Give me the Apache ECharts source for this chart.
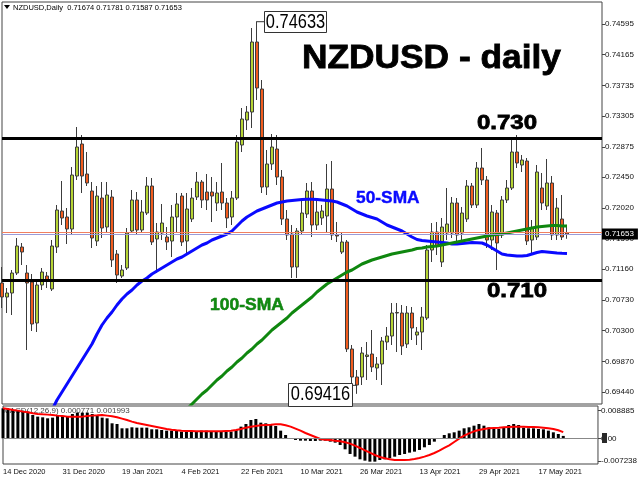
<!DOCTYPE html>
<html><head><meta charset="utf-8">
<script src="https://cdn.jsdelivr.net/npm/echarts@6/dist/echarts.min.js"></script>
<style>html,body{margin:0;padding:0;background:#fff}#c{width:640px;height:480px}</style>
</head><body><div id="c"></div>
<script>
const dates = [
'14 Dec 2020','15 Dec 2020','16 Dec 2020','17 Dec 2020','18 Dec 2020','21 Dec 2020','22 Dec 2020','23 Dec 2020','24 Dec 2020','28 Dec 2020','29 Dec 2020','30 Dec 2020','31 Dec 2020',
'4 Jan 2021','5 Jan 2021','6 Jan 2021','7 Jan 2021','8 Jan 2021','11 Jan 2021','12 Jan 2021','13 Jan 2021','14 Jan 2021','15 Jan 2021','18 Jan 2021','19 Jan 2021','20 Jan 2021','21 Jan 2021','22 Jan 2021','25 Jan 2021','26 Jan 2021','27 Jan 2021','28 Jan 2021','29 Jan 2021',
'1 Feb 2021','2 Feb 2021','3 Feb 2021','4 Feb 2021','5 Feb 2021','8 Feb 2021','9 Feb 2021','10 Feb 2021','11 Feb 2021','12 Feb 2021','15 Feb 2021','16 Feb 2021','17 Feb 2021','18 Feb 2021','19 Feb 2021','22 Feb 2021','23 Feb 2021','24 Feb 2021','25 Feb 2021','26 Feb 2021',
'1 Mar 2021','2 Mar 2021','3 Mar 2021','4 Mar 2021','5 Mar 2021','8 Mar 2021','9 Mar 2021','10 Mar 2021','11 Mar 2021','12 Mar 2021','15 Mar 2021','16 Mar 2021','17 Mar 2021','18 Mar 2021','19 Mar 2021','22 Mar 2021','23 Mar 2021','24 Mar 2021','25 Mar 2021','26 Mar 2021','29 Mar 2021','30 Mar 2021','31 Mar 2021',
'1 Apr 2021','2 Apr 2021','5 Apr 2021','6 Apr 2021','7 Apr 2021','8 Apr 2021','9 Apr 2021','12 Apr 2021','13 Apr 2021','14 Apr 2021','15 Apr 2021','16 Apr 2021','19 Apr 2021','20 Apr 2021','21 Apr 2021','22 Apr 2021','23 Apr 2021','26 Apr 2021','27 Apr 2021','28 Apr 2021','29 Apr 2021','30 Apr 2021',
'3 May 2021','4 May 2021','5 May 2021','6 May 2021','7 May 2021','10 May 2021','11 May 2021','12 May 2021','13 May 2021','14 May 2021','17 May 2021','18 May 2021','19 May 2021','20 May 2021','21 May 2021','24 May 2021'
];
const opens = [
0.70968,0.70772,0.70828,0.71108,0.71472,0.71108,0.70982,0.70408,0.70940,0.71066,
0.70884,0.71472,0.71976,0.71892,0.71724,0.72466,0.72914,0.72494,0.72256,0.71556,
0.72158,0.71752,0.72172,0.71374,0.71066,0.71178,0.71696,0.72130,0.71710,0.71948,
0.72326,0.71584,0.71668,0.71612,0.71556,0.71892,0.72186,0.71556,0.71864,0.72172,
0.72382,0.72242,0.72242,0.72088,0.72242,0.72088,0.71892,0.72158,0.72900,0.73250,
0.73362,0.74342,0.73684,0.72312,0.72634,0.72844,0.72452,0.71864,0.71654,0.71192,
0.71696,0.71934,0.72256,0.71780,0.71878,0.71906,0.72284,0.71640,0.71402,0.71542,
0.70044,0.69652,0.69652,0.69939,0.69974,0.69778,0.69834,0.70142,0.70226,0.70555,
0.70548,0.70114,0.70548,0.70240,0.70282,0.70478,0.71430,0.71682,0.71262,0.71668,
0.71668,0.72088,0.71668,0.71864,0.72326,0.72060,0.72578,0.72410,0.71570,0.71948,
0.71640,0.72130,0.72298,0.72802,0.72620,0.72676,0.71570,0.71612,0.72298,0.72046,
0.72368,0.71640,0.71864,0.71674
];
const closes = [
0.70772,0.70828,0.71108,0.71486,0.71402,0.70968,0.70394,0.70940,0.71122,0.70996,
0.71486,0.71990,0.71878,0.71724,0.72480,0.72872,0.72466,0.72368,0.71598,0.72186,
0.71738,0.72200,0.71290,0.71080,0.71150,0.71668,0.72130,0.71710,0.71962,0.72326,
0.71542,0.71682,0.71808,0.71542,0.71892,0.72074,0.71542,0.72004,0.72158,0.72382,
0.72130,0.72130,0.72186,0.72228,0.72088,0.71878,0.72158,0.72942,0.73264,0.73362,
0.74342,0.73698,0.72312,0.72634,0.72872,0.72452,0.71864,0.71640,0.71192,0.71696,
0.71948,0.72256,0.71780,0.71962,0.71976,0.72284,0.71640,0.71626,0.71542,0.70044,
0.69652,0.69540,0.69988,0.69960,0.69792,0.69834,0.70156,0.70226,0.70548,0.70548,
0.70086,0.70548,0.70338,0.70282,0.70492,0.71430,0.71682,0.71486,0.71752,0.71794,
0.72088,0.71640,0.71948,0.72326,0.72060,0.72578,0.72410,0.71570,0.71962,0.71528,
0.72130,0.72298,0.72802,0.72648,0.72690,0.71556,0.71738,0.72522,0.72088,0.72368,
0.71640,0.72018,0.71612,0.71653
];
const lows = [
0.70618,0.70548,0.70520,0.71080,0.71220,0.70030,0.70296,0.70282,0.70870,0.70898,
0.70856,0.71388,0.71780,0.71514,0.71640,0.72410,0.72228,0.72326,0.71458,0.71486,
0.71598,0.71682,0.71192,0.70968,0.71038,0.71150,0.71668,0.71640,0.71668,0.71920,
0.71500,0.71108,0.71570,0.71430,0.71332,0.71682,0.71486,0.71388,0.71822,0.72130,
0.72018,0.71990,0.71822,0.71976,0.71990,0.71738,0.71780,0.72130,0.72802,0.73110,
0.73138,0.73530,0.72228,0.72200,0.72550,0.72340,0.71780,0.71570,0.71038,0.71038,
0.71640,0.71878,0.71612,0.71710,0.71780,0.71668,0.71570,0.71542,0.71374,0.70002,
0.69540,0.69416,0.69540,0.69610,0.69722,0.69610,0.69540,0.70030,0.70100,0.70002,
0.69960,0.70058,0.70170,0.70100,0.70030,0.70450,0.71262,0.71360,0.71192,0.71570,
0.71598,0.71542,0.71570,0.71822,0.72018,0.72018,0.72340,0.71458,0.71430,0.71150,
0.71598,0.72088,0.72270,0.72578,0.72522,0.71500,0.71374,0.71570,0.71990,0.71990,
0.71570,0.71570,0.71570,0.71587
];
const highs = [
0.71192,0.70898,0.71150,0.71598,0.71528,0.71220,0.71094,0.71024,0.71178,0.71122,
0.71570,0.72060,0.72396,0.72018,0.72592,0.73152,0.73040,0.72802,0.72382,0.72326,
0.72382,0.72382,0.72270,0.71430,0.71220,0.71738,0.72270,0.72242,0.72130,0.72452,
0.72438,0.71808,0.72074,0.71752,0.72060,0.72228,0.72228,0.72228,0.72298,0.72522,
0.72410,0.72494,0.72452,0.72382,0.72648,0.72158,0.72256,0.73040,0.73418,0.73446,
0.74538,0.74633,0.73810,0.72830,0.73054,0.73040,0.72550,0.71990,0.71780,0.71738,
0.72130,0.72368,0.72382,0.72130,0.72060,0.72634,0.72676,0.71822,0.71682,0.71570,
0.70100,0.69750,0.70072,0.70142,0.70310,0.69932,0.70212,0.70352,0.70688,0.70688,
0.70660,0.70646,0.70632,0.70352,0.70632,0.71500,0.71808,0.71822,0.71878,0.72298,
0.72172,0.72158,0.72032,0.72410,0.72368,0.72662,0.72858,0.72466,0.72060,0.71990,
0.72186,0.72410,0.72998,0.73040,0.72760,0.72718,0.71850,0.72620,0.72508,0.72704,
0.72466,0.72158,0.72200,0.71781
];
const sma50 = [
null,null,null,null,null,null,null,null,null,null,
0.69190,0.69330,0.69442,0.69554,0.69666,0.69778,0.69890,0.70002,0.70114,0.70254,
0.70380,0.70478,0.70562,0.70660,0.70744,0.70814,0.70870,0.70940,0.70996,0.71038,
0.71094,0.71136,0.71178,0.71220,0.71262,0.71304,0.71332,0.71374,0.71416,0.71458,
0.71500,0.71528,0.71570,0.71598,0.71626,0.71654,0.71696,0.71766,0.71836,0.71892,
0.71934,0.71976,0.72004,0.72032,0.72060,0.72088,0.72102,0.72116,0.72123,0.72130,
0.72137,0.72140,0.72140,0.72137,0.72130,0.72123,0.72116,0.72102,0.72074,0.72046,
0.72004,0.71962,0.71934,0.71906,0.71885,0.71864,0.71822,0.71780,0.71752,0.71724,
0.71696,0.71654,0.71612,0.71577,0.71563,0.71556,0.71549,0.71542,0.71535,0.71528,
0.71514,0.71514,0.71521,0.71528,0.71535,0.71532,0.71528,0.71500,0.71458,0.71416,
0.71374,0.71360,0.71353,0.71346,0.71346,0.71353,0.71374,0.71395,0.71409,0.71402,
0.71395,0.71388,0.71384,0.71381
];
const sma100 = [
null,null,null,null,null,null,null,null,null,null,
null,null,null,null,null,null,null,null,null,null,
null,null,null,null,null,null,null,null,null,null,
null,null,null,null,null,null,null,
0.69204,0.69274,0.69344,0.69414,0.69470,0.69540,0.69610,0.69666,0.69736,0.69792,
0.69862,0.69918,0.69988,0.70044,0.70114,0.70170,0.70240,0.70310,0.70366,0.70422,
0.70478,0.70548,0.70604,0.70660,0.70716,0.70772,0.70842,0.70898,0.70954,0.70996,
0.71038,0.71080,0.71122,0.71150,0.71192,0.71234,0.71262,0.71290,0.71311,0.71332,
0.71353,0.71374,0.71388,0.71402,0.71416,0.71430,0.71451,0.71458,0.71472,0.71479,
0.71486,0.71500,0.71514,0.71528,0.71542,0.71556,0.71570,0.71584,0.71598,0.71612,
0.71626,0.71640,0.71647,0.71654,0.71668,0.71682,0.71696,0.71710,0.71724,0.71738,
0.71752,0.71759,0.71766,0.71773,0.71773,0.71766,0.71766
];
const macd = [
0.00960,0.00939,0.00907,0.00886,0.00886,0.00854,0.00747,0.00694,0.00672,0.00640,
0.00662,0.00715,0.00715,0.00715,0.00779,0.00822,0.00822,0.00822,0.00779,0.00747,
0.00662,0.00640,0.00480,0.00459,0.00320,0.00320,0.00352,0.00341,0.00341,0.00341,
0.00288,0.00288,0.00267,0.00245,0.00245,0.00245,0.00213,0.00213,0.00213,0.00235,
0.00245,0.00245,0.00235,0.00235,0.00235,0.00213,0.00213,0.00267,0.00373,0.00459,
0.00587,0.00619,0.00501,0.00480,0.00448,0.00395,0.00245,0.00107,0.00010,-0.00053,
-0.00075,-0.00075,-0.00085,-0.00085,-0.00075,-0.00075,-0.00107,-0.00139,-0.00213,-0.00352,
-0.00501,-0.00587,-0.00672,-0.00715,-0.00747,-0.00747,-0.00694,-0.00672,-0.00640,-0.00587,
-0.00534,-0.00501,-0.00459,-0.00427,-0.00373,-0.00288,-0.00213,-0.00107,-0.00021,0.00107,
0.00160,0.00192,0.00245,0.00320,0.00352,0.00405,0.00459,0.00405,0.00352,0.00320,
0.00299,0.00352,0.00427,0.00459,0.00427,0.00341,0.00320,0.00320,0.00299,0.00288,
0.00245,0.00192,0.00139,0.000771
];
const signal = [
0.00960,0.00939,0.00907,0.00886,0.00854,0.00832,0.00800,0.00779,0.00768,0.00758,
0.00747,0.00726,0.00715,0.00694,0.00694,0.00694,0.00694,0.00715,0.00726,0.00736,
0.00747,0.00726,0.00704,0.00672,0.00630,0.00587,0.00534,0.00491,0.00459,0.00427,
0.00395,0.00363,0.00331,0.00299,0.00277,0.00256,0.00245,0.00235,0.00235,0.00224,
0.00224,0.00224,0.00224,0.00224,0.00224,0.00235,0.00245,0.00267,0.00299,0.00341,
0.00373,0.00395,0.00416,0.00427,0.00437,0.00448,0.00448,0.00416,0.00373,0.00309,
0.00245,0.00171,0.00107,0.00043,-0.00021,-0.00043,-0.00053,-0.00075,-0.00096,-0.00128,
-0.00171,-0.00235,-0.00309,-0.00384,-0.00459,-0.00534,-0.00598,-0.00640,-0.00672,-0.00694,
-0.00694,-0.00694,-0.00683,-0.00662,-0.00630,-0.00587,-0.00534,-0.00470,-0.00395,-0.00309,
-0.00224,-0.00117,-0.00011,0.00085,0.00160,0.00224,0.00267,0.00299,0.00320,0.00331,
0.00341,0.00352,0.00363,0.00373,0.00373,0.00373,0.00363,0.00363,0.00352,0.00341,
0.00320,0.00299,0.00256,0.001993
];
const priceTicks = [0.74595,0.74165,0.73735,0.73305,0.72875,0.72450,0.72020,0.71590,0.71160,0.70730,0.70300,0.69870,0.69440];
const macdTicks = [0.008885, 0, -0.007238];
const levels = [0.730, 0.710];
const lastPrice = 0.71653;
const askPrice = 0.71685;
const peakIndex = 51;
const lowIndex = 71;

const FONT = '"Liberation Sans", Arial, sans-serif';
const chart = echarts.init(document.getElementById('c'), null, {renderer: 'canvas'});
const cats = dates.concat(new Array(7).fill(''));
const candles = opens.map((o, i) => [o, closes[i], lows[i], highs[i]]);
const last = opens.length - 1;

chart.setOption({
  animation: false,
  backgroundColor: '#ffffff',
  grid: [
    {left: 2, top: 2, width: 600, height: 402, show: true, borderColor: '#444', borderWidth: 1},
    {left: 2, top: 406, width: 600, height: 58, show: true, borderColor: '#444', borderWidth: 1}
  ],
  xAxis: [
    {type: 'category', gridIndex: 0, data: cats, boundaryGap: false,
     axisLine: {show: false}, axisTick: {show: false}, axisLabel: {show: false}, splitLine: {show: false}},
    {type: 'category', gridIndex: 1, data: cats, boundaryGap: false,
     axisLine: {show: false}, axisTick: {show: false}, splitLine: {show: false},
     axisLabel: {interval: 11, align: 'left', fontSize: 7.5, fontFamily: FONT, color: '#111', margin: 4}}
  ],
  yAxis: [
    {type: 'value', gridIndex: 0, position: 'right', min: 0.69274, max: 0.74902,
     splitLine: {show: false}, axisLine: {show: false},
     axisTick: {show: true, length: 3, customValues: priceTicks, lineStyle: {color: '#444'}},
     axisLabel: {customValues: priceTicks, formatter: v => v.toFixed(5), fontSize: 8, fontFamily: FONT, color: '#111', margin: 3}},
    {type: 'value', gridIndex: 1, position: 'right', min: -0.00822, max: 0.01034,
     splitLine: {show: false}, axisLine: {show: false},
     axisTick: {show: true, length: 3, customValues: macdTicks, lineStyle: {color: '#444'}},
     axisLabel: {customValues: macdTicks, formatter: v => (v === 0 ? '0.00' : v.toFixed(6)), fontSize: 8, fontFamily: FONT, color: '#111', margin: 3}}
  ],
  series: [
    {type: 'candlestick', xAxisIndex: 0, yAxisIndex: 0, data: candles, barWidth: 3,
     itemStyle: {color: '#b5d334', color0: '#f25c1e', borderColor: '#3c3c3c', borderColor0: '#3c3c3c', borderColorDoji: '#3c3c3c', borderWidth: 1},
     markLine: {silent: true, symbol: 'none', animation: false, precision: 5, label: {show: false},
       data: [
         {yAxis: askPrice, lineStyle: {color: '#f08060', width: 1, type: 'solid'}},
         {yAxis: lastPrice, lineStyle: {color: '#9a9ad8', width: 1, type: 'solid'},
          label: {show: true, position: 'end', formatter: lastPrice.toFixed(5), backgroundColor: '#000', color: '#fff',
                  padding: [2, 4, 1, 3], fontSize: 8, fontFamily: FONT, distance: 0}},
         {yAxis: levels[0], lineStyle: {color: '#000', width: 3, type: 'solid'}},
         {yAxis: levels[1], lineStyle: {color: '#000', width: 3, type: 'solid'}}
       ]}},
    {type: 'line', xAxisIndex: 0, yAxisIndex: 0, data: sma50, symbol: 'none', z: 3,
     lineStyle: {color: '#0a0aff', width: 3}},
    {type: 'line', xAxisIndex: 0, yAxisIndex: 0, data: sma100, symbol: 'none', z: 3,
     lineStyle: {color: '#0f870f', width: 3}},
    {type: 'bar', xAxisIndex: 1, yAxisIndex: 1, data: macd, barWidth: 3, itemStyle: {color: '#000'},
     markLine: {silent: true, symbol: 'none', animation: false, precision: 6, label: {show: false},
       data: [{yAxis: 0, lineStyle: {color: '#888', width: 1, type: 'solid'}}]}},
    {type: 'line', xAxisIndex: 1, yAxisIndex: 1, data: signal, symbol: 'none', z: 3,
     lineStyle: {color: '#ff0000', width: 2}}
  ]
});

function T(x, y, text, font, fill, extra) {
  return Object.assign({type: 'text', x: x, y: y, z: 20,
    style: Object.assign({text: text, x: 0, y: 0, font: font, fill: fill,
      align: 'left', textAlign: 'left', verticalAlign: 'middle', textVerticalAlign: 'middle'}, (extra && extra.style) || {})},
    extra ? {scaleX: extra.scaleX || 1} : {});
}

const pk = chart.convertToPixel({xAxisIndex: 0, yAxisIndex: 0}, [peakIndex, highs[peakIndex]]);
const lw = chart.convertToPixel({xAxisIndex: 0, yAxisIndex: 0}, [lowIndex, lows[lowIndex]]);
const l730 = chart.convertToPixel({xAxisIndex: 0, yAxisIndex: 0}, [0, levels[0]])[1];
const l710 = chart.convertToPixel({xAxisIndex: 0, yAxisIndex: 0}, [0, levels[1]])[1];
const zeroY = chart.convertToPixel({xAxisIndex: 1, yAxisIndex: 1}, [0, 0])[1];

const pkBoxL = pk[0] + 7, boxW = 62, boxH = 21;
const lwBoxR = lw[0] - 5;

const elements = [
  {type: 'polygon', z: 20, shape: {points: [[4, 5], [10, 5], [7, 9]]}, style: {fill: '#000'}},
  T(13, 8, 'NZDUSD,Daily  ' + [opens[last], highs[last], lows[last], closes[last]].map(v => v.toFixed(5)).join(' '),
    '7.5px ' + FONT, '#000'),
  T(302, 59, 'NZDUSD - daily', 'bold 33px ' + FONT, '#000', {scaleX: 1.07, style: {stroke: '#000', lineWidth: 0.8}}),
  T(477, l730 - 14.5, levels[0].toFixed(3), 'bold 20px ' + FONT, '#000', {scaleX: 1.2, style: {stroke: '#000', lineWidth: 0.8}}),
  T(487, l710 + 11, levels[1].toFixed(3), 'bold 20px ' + FONT, '#000', {scaleX: 1.2, style: {stroke: '#000', lineWidth: 0.8}}),
  T(356, 198, '50-SMA', 'bold 17px ' + FONT, '#0a0aff', {scaleX: 1.02, style: {stroke: '#0a0aff', lineWidth: 0.4}}),
  T(210, 305, '100-SMA', 'bold 17px ' + FONT, '#108a10', {scaleX: 1.03, style: {stroke: '#0c6a0c', lineWidth: 0.5}}),
  {type: 'line', z: 20, shape: {x1: pk[0], y1: pk[1] + 0.5, x2: pkBoxL, y2: pk[1] + 0.5}, style: {stroke: '#333', lineWidth: 1}},
  {type: 'rect', z: 20, shape: {x: pkBoxL + 0.5, y: Math.round(pk[1] - boxH / 2) + 0.5, width: boxW, height: boxH}, style: {fill: '#fff', stroke: '#333', lineWidth: 1}},
  {type: 'text', z: 21, x: pkBoxL + boxW / 2 + 0.5, y: pk[1] + 1, scaleX: 0.82,
   style: {text: highs[peakIndex].toFixed(5), x: 0, y: 0, font: '20px ' + FONT, fill: '#000', align: 'center', textAlign: 'center', verticalAlign: 'middle', textVerticalAlign: 'middle'}},
  {type: 'line', z: 20, shape: {x1: lwBoxR, y1: lw[1] - 8.5, x2: lw[0], y2: lw[1] - 8.5}, style: {stroke: '#333', lineWidth: 1}},
  {type: 'rect', z: 20, shape: {x: lwBoxR - 64 + 0.5, y: Math.round(lw[1] - boxH / 2) + 0.5, width: 64, height: boxH + 2}, style: {fill: '#fff', stroke: '#333', lineWidth: 1}},
  {type: 'text', z: 21, x: lwBoxR - 32 + 0.5, y: lw[1] + 1, scaleX: 0.82,
   style: {text: lows[lowIndex].toFixed(5), x: 0, y: 0, font: '20px ' + FONT, fill: '#000', align: 'center', textAlign: 'center', verticalAlign: 'middle', textVerticalAlign: 'middle'}},
  {type: 'rect', z: 19, shape: {x: 602, y: Math.round(zeroY) - 5, width: 5, height: 10}, style: {fill: '#2a2a2a'}},
  Object.assign(T(3, 411, 'MACD(12,26,9) ' + macd[last].toFixed(6) + ' ' + signal[last].toFixed(6), '8px ' + FONT, '#444'), {z: 1})
];
chart.setOption({graphic: {elements: elements}});
</script>
</body></html>
